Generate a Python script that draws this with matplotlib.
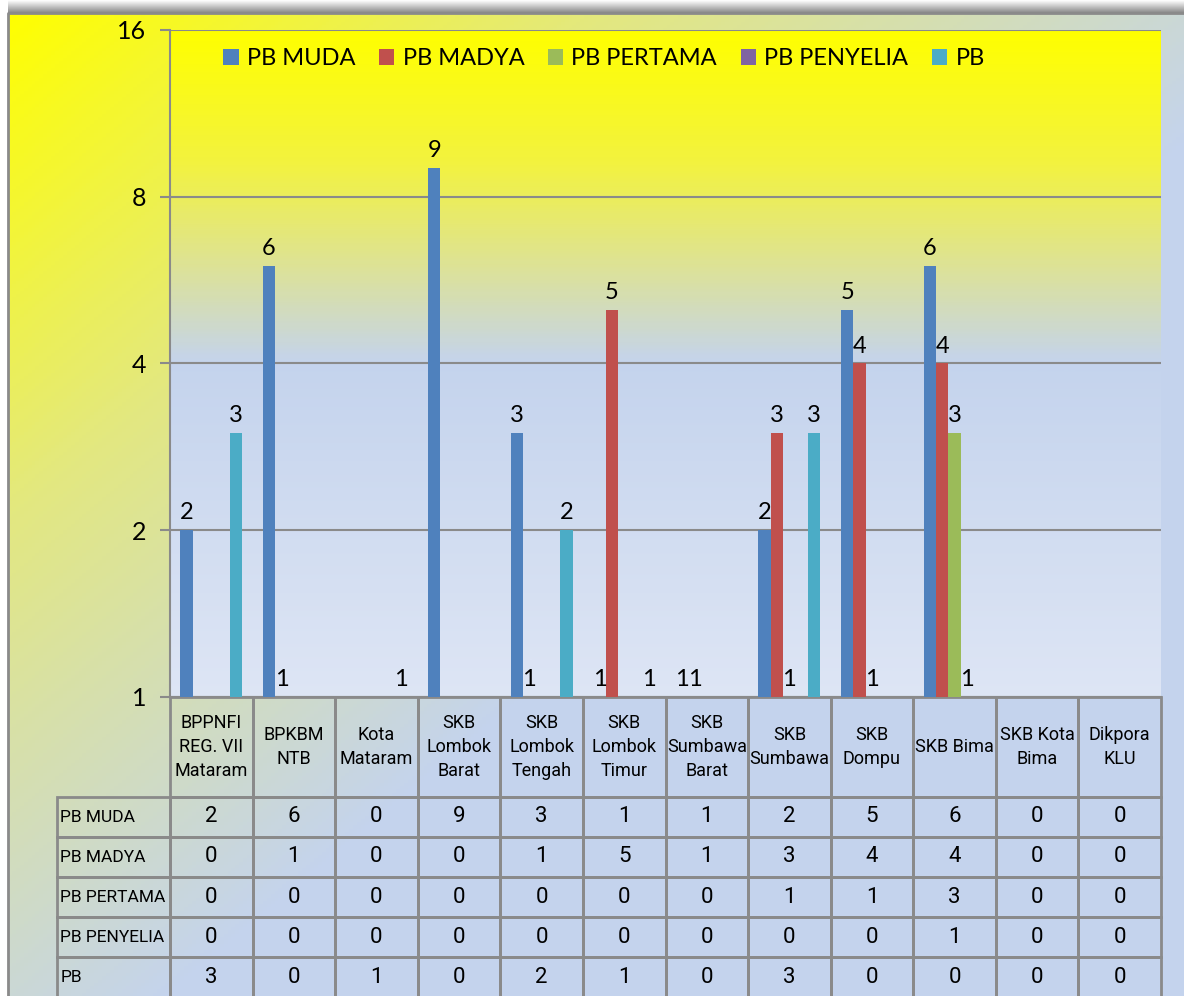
import numpy as np
import matplotlib.pyplot as plt
from matplotlib import font_manager
from matplotlib.colors import LinearSegmentedColormap
from matplotlib.patches import Patch
from matplotlib.table import Table

units = ['BPPNFI\nREG. VII\nMataram', 'BPKBM\nNTB', 'Kota\nMataram',
         'SKB\nLombok\nBarat', 'SKB\nLombok\nTengah', 'SKB\nLombok\nTimur',
         'SKB\nSumbawa\nBarat', 'SKB\nSumbawa', 'SKB\nDompu', 'SKB Bima',
         'SKB Kota\nBima', 'Dikpora\nKLU']
series = ['PB MUDA', 'PB MADYA', 'PB PERTAMA', 'PB PENYELIA', 'PB']
pb_muda = [2, 6, 0, 9, 3, 1, 1, 2, 5, 6, 0, 0]
pb_madya = [0, 1, 0, 0, 1, 5, 1, 3, 4, 4, 0, 0]
pb_pertama = [0, 0, 0, 0, 0, 0, 0, 1, 1, 3, 0, 0]
pb_penyelia = [0, 0, 0, 0, 0, 0, 0, 0, 0, 1, 0, 0]
pb = [3, 0, 1, 0, 2, 1, 0, 3, 0, 0, 0, 0]
yticks = [1, 2, 4, 8, 16]

data = [pb_muda, pb_madya, pb_pertama, pb_penyelia, pb]
colors = ['#4F81BD', '#C0504D', '#9BBB59', '#8064A2', '#4BACC6']

plt.rcParams['font.family'] = ['Lato', 'DejaVu Sans']
names = {f.name for f in font_manager.fontManager.ttflist}
table_font = 'Liberation Sans Narrow' if 'Liberation Sans Narrow' in names else 'Roboto'

W, H = 1184, 996
fig = plt.figure(figsize=(W / 100, H / 100), dpi=100)

# outer chart background (diagonal yellow -> light blue)
bg = fig.add_axes([0, 0, 1, 1], zorder=-10)
bg.set_xlim(0, 1)
bg.set_ylim(0, 1)
bg.set_axis_off()
outer_cmap = LinearSegmentedColormap.from_list(
    'outer', [(0, (1, 1, 0)), (0.45, (0.89, 0.91, 0.5)), (1, (0.77, 0.83, 0.93))])
yy, xx = np.mgrid[0:1:300j, 0:1:300j]
grad = np.clip(0.88 * (xx + yy), 0, 1)
bg.imshow(grad, cmap=outer_cmap, vmin=0, vmax=1, extent=[8 / W, 1, 0, 1 - 13 / H],
          aspect='auto', origin='upper', zorder=0)
shadow = np.linspace(0, 1, 20)[:, None] * np.ones((1, 10))
bg.imshow(shadow, cmap=LinearSegmentedColormap.from_list('sh', ['white', '#8a8a8a']),
          extent=[8 / W, 1, 1 - 13 / H, 1], aspect='auto', origin='upper', zorder=0)
bg.plot([8 / W, 8 / W, 1], [0, 1 - 13 / H, 1 - 13 / H], color='#8a8a8a', lw=2, zorder=1)

pos = [170 / W, (H - 697) / H, 991 / W, 667 / H]

# plot area background
pbg = fig.add_axes(pos, zorder=-5)
pbg.set_axis_off()
inner_cmap = LinearSegmentedColormap.from_list(
    'inner', [(0, (1, 1, 0)), (0.2, (0.95, 0.95, 0.25)), (0.35, (0.87, 0.89, 0.58)),
              (0.5, (0.77, 0.83, 0.93)), (1, (0.87, 0.9, 0.96))])
pbg.imshow(np.linspace(0, 1, 300)[:, None], cmap=inner_cmap, extent=[0, 1, 0, 1],
           aspect='auto', origin='upper')
pbg.set_xlim(0, 1)
pbg.set_ylim(0, 1)

ax = fig.add_axes(pos)
ax.patch.set_visible(False)
ax.set_yscale('log', base=2)
ax.set_ylim(1, 16)
ax.set_xlim(-0.5, len(units) - 0.5)

x = np.arange(len(units))
w = 0.15
for i, (name, vals) in enumerate(zip(series, data)):
    vals = np.array(vals, dtype=float)
    off = (i - 2) * w
    m = vals >= 1
    ax.bar(x[m] + off, vals[m] - 1, bottom=1, width=w, color=colors[i], zorder=3)
    for xi, v in zip(x[m], vals[m]):
        ax.annotate(f'{int(v)}', (xi + off, v), xytext=(0, 5), textcoords='offset points',
                    ha='center', va='bottom', fontsize=17, zorder=4)

ax.set_yticks(yticks)
ax.set_yticklabels([str(t) for t in yticks])
ax.yaxis.set_minor_locator(plt.NullLocator())
ax.set_xticks([])
ax.tick_params(axis='y', direction='out', length=7, width=1.5, color='#8a8a8a',
               labelsize=18, pad=10)
ax.yaxis.grid(True, color='#8a8a8a', lw=1.5, zorder=1)
ax.set_axisbelow(True)
for s in ['top', 'right']:
    ax.spines[s].set_visible(False)
for s in ['left', 'bottom']:
    ax.spines[s].set_color('#8a8a8a')
    ax.spines[s].set_linewidth(1.5)

handles = [Patch(facecolor=c, label=n) for c, n in zip(colors, series)]
fig.legend(handles=handles, loc='upper center', bbox_to_anchor=(604 / W, 1 - 27 / H),
           ncol=5, frameon=False, fontsize=17, handlelength=0.65, handleheight=0.65,
           handletextpad=0.35, columnspacing=1.0)

# data table under the chart (sizes in axes fractions)
ax_h = 667
tbl = Table(ax, bbox=[0, -300 / ax_h, 1, 300 / ax_h])
colw = 1 / len(units)
edge = '#8a8a8a'
for j, u in enumerate(units):
    c = tbl.add_cell(0, j, width=colw, height=100 / ax_h, text=u, loc='center',
                     facecolor='none', edgecolor=edge)
    c.get_text().set_fontsize(13)
    c.get_text().set_linespacing(1.45)
for i, (name, vals) in enumerate(zip(series, data)):
    c = tbl.add_cell(i + 1, -1, width=113 / 991, height=40 / ax_h, text=name, loc='left',
                     facecolor='none', edgecolor=edge)
    c.PAD = 0.03
    c.get_text().set_fontsize(12.5)
    for j, v in enumerate(vals):
        c = tbl.add_cell(i + 1, j, width=colw, height=40 / ax_h, text=str(v), loc='center',
                         facecolor='none', edgecolor=edge)
        c.get_text().set_fontsize(16)
tbl.auto_set_font_size(False)
for cell in tbl.get_celld().values():
    cell.set_linewidth(2)
    cell.get_text().set_fontfamily([table_font, 'DejaVu Sans'])
ax.add_table(tbl)

fig.savefig('out.png', dpi=100)
